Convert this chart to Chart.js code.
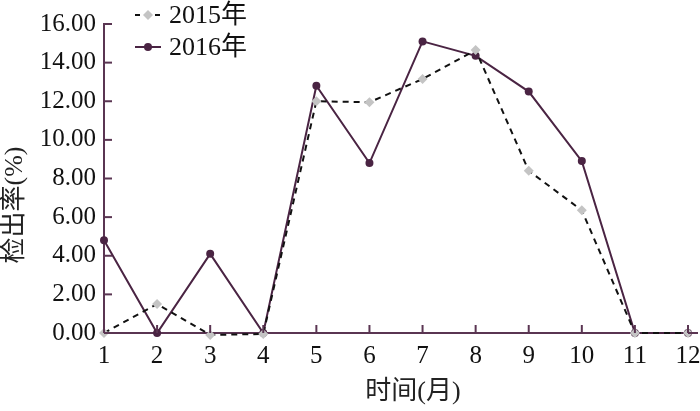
<!DOCTYPE html>
<html>
<head>
<meta charset="utf-8">
<script src="https://cdn.jsdelivr.net/npm/chart.js@4/dist/chart.umd.min.js"></script>
<style>
  html, body { margin: 0; padding: 0; background: #fff; }
  #wrap { width: 700px; height: 411px; }
</style>
</head>
<body>
<div id="wrap"><canvas id="rateChart"></canvas></div>
<script>
// months on the x axis
const months = [1, 2, 3, 4, 5, 6, 7, 8, 9, 10, 11, 12];
// detection rate (%)
const rate2015 = [0.0, 1.5, -0.1, -0.05, 12.0, 11.95, 13.15, 14.65, 8.4, 6.35, 0.0, 0.0];
const rate2016 = [4.8, 0.0, 4.1, 0.0, 12.8, 8.8, 15.1, 14.35, 12.5, 8.9, 0.0, 0.0];
const seriesNames = ['2015年', '2016年'];
const yTitle = '检出率(%)';
const xTitle = '时间(月)';

const axisColor = '#5a3552';
const purple = '#4a2443';
const grey = '#c4c4c4';
const serif = '"Liberation Serif", "Times New Roman", serif';
const titleFont = '"Liberation Serif", "Noto Sans CJK SC", serif';

// draws inward tick marks, axis titles and the little legend
const decorPlugin = {
    id: 'decor',
    afterDraw(chart) {
        const ctx = chart.ctx;
        const xs = chart.scales.x, ys = chart.scales.y;
        const area = chart.chartArea;
        ctx.save();
        ctx.strokeStyle = axisColor;
        ctx.lineWidth = 2;
        xs.ticks.forEach(t => {
            const px = xs.getPixelForValue(t.value);
            ctx.beginPath();
            ctx.moveTo(px, area.bottom);
            ctx.lineTo(px, area.bottom - 8);
            ctx.stroke();
        });
        ys.ticks.forEach(t => {
            const py = ys.getPixelForValue(t.value);
            ctx.beginPath();
            ctx.moveTo(area.left, py);
            ctx.lineTo(area.left + 8, py);
            ctx.stroke();
        });
        // extend x axis line a bit past the last month
        ctx.beginPath();
        ctx.moveTo(area.right, area.bottom);
        ctx.lineTo(area.right + 10, area.bottom);
        ctx.stroke();

        // axis titles
        ctx.fillStyle = '#222';
        ctx.font = '26px ' + titleFont;
        ctx.textAlign = 'center';
        ctx.textBaseline = 'middle';
        ctx.fillText(xTitle, 413, 392);
        ctx.save();
        ctx.translate(15, 205);
        ctx.rotate(-Math.PI / 2);
        ctx.fillText(yTitle, 0, 0);
        ctx.restore();

        // legend
        const rows = [
            { y: 15, dash: [5, 5], line: '#111', fill: grey, style: 'rectRot' },
            { y: 47, dash: [], line: purple, fill: purple, style: 'circle' }
        ];
        rows.forEach((r, i) => {
            ctx.setLineDash(r.dash);
            ctx.strokeStyle = r.line;
            ctx.lineWidth = 2;
            ctx.beginPath();
            ctx.moveTo(135, r.y);
            ctx.lineTo(161, r.y);
            ctx.stroke();
            ctx.setLineDash([]);
            ctx.fillStyle = r.fill;
            ctx.beginPath();
            if (r.style === 'circle') {
                ctx.arc(148, r.y, 4, 0, Math.PI * 2);
            } else {
                ctx.moveTo(148, r.y - 5); ctx.lineTo(153, r.y); ctx.lineTo(148, r.y + 5); ctx.lineTo(143, r.y);
            }
            ctx.fill();
            ctx.fillStyle = '#111';
            ctx.textAlign = 'left';
            ctx.font = '26px ' + titleFont;
            ctx.fillText(seriesNames[i], 169, r.y + 1);
        });
        ctx.restore();
    }
};

const ctx = document.getElementById('rateChart').getContext('2d');
const rateChart = new Chart(ctx, {
    type: 'line',
    data: {
        datasets: [
            {
                label: seriesNames[0],
                data: months.map((m, i) => ({ x: m, y: rate2015[i] })),
                borderColor: '#111',
                borderWidth: 2,
                borderDash: [6, 5],
                pointStyle: 'rectRot',
                pointRadius: 5,
                pointBackgroundColor: grey,
                pointBorderColor: grey,
                pointBorderWidth: 0,
                tension: 0,
                clip: false
            },
            {
                label: seriesNames[1],
                data: months.map((m, i) => ({ x: m, y: rate2016[i] })),
                borderColor: purple,
                borderWidth: 2,
                pointStyle: 'circle',
                pointRadius: 4,
                pointBackgroundColor: purple,
                pointBorderColor: purple,
                pointBorderWidth: 0,
                tension: 0,
                clip: false
            }
        ]
    },
    options: {
        responsive: true,
        maintainAspectRatio: false,
        animation: false,
        layout: { padding: { top: 24, right: 0, left: 0, bottom: 0 } },
        plugins: {
            legend: { display: false },
            tooltip: { enabled: false }
        },
        scales: {
            x: {
                type: 'linear',
                min: 1,
                max: 12,
                afterFit: s => { s.height = 78; s.paddingRight = 12; s.paddingLeft = 0; },
                grid: { display: false, drawTicks: false },
                border: { color: axisColor, width: 2 },
                ticks: {
                    stepSize: 1,
                    padding: 8,
                    color: '#111',
                    font: { family: serif, size: 25 }
                }
            },
            y: {
                min: 0,
                max: 16,
                afterFit: s => { s.width = 104; s.paddingTop = 0; },
                grid: { display: false, drawTicks: false },
                border: { color: axisColor, width: 2 },
                ticks: {
                    stepSize: 2,
                    padding: 8,
                    color: '#111',
                    font: { family: serif, size: 25 },
                    callback: v => v.toFixed(2)
                }
            }
        }
    },
    plugins: [decorPlugin]
});
</script>
</body>
</html>
